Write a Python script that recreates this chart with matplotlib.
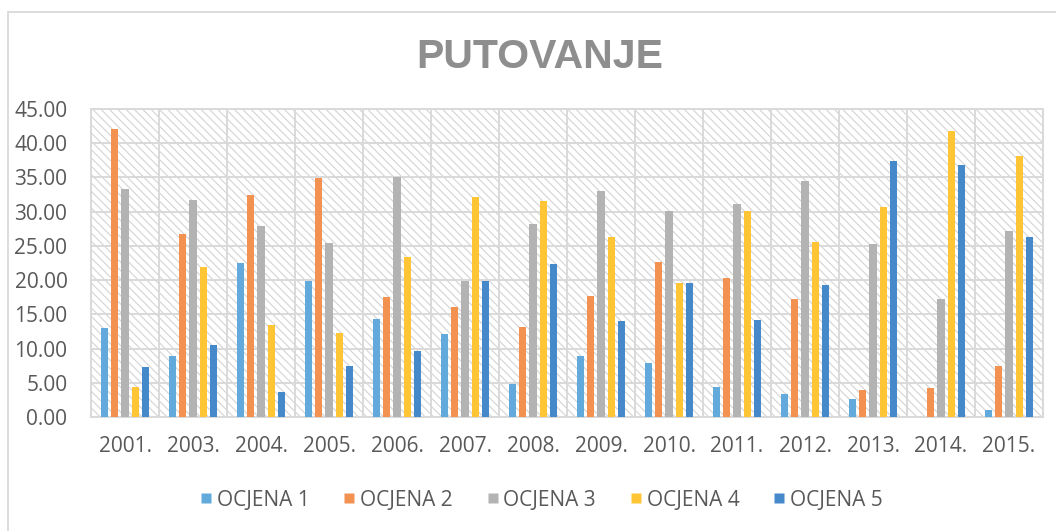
import matplotlib
matplotlib.use('Agg')
from matplotlib import pyplot as plt
from matplotlib.patches import Rectangle
from matplotlib.lines import Line2D
import numpy as np

years = ['2001.', '2003.', '2004.', '2005.', '2006.', '2007.', '2008.',
         '2009.', '2010.', '2011.', '2012.', '2013.', '2014.', '2015.']
series_names = ['OCJENA 1', 'OCJENA 2', 'OCJENA 3', 'OCJENA 4', 'OCJENA 5']

ocjena1 = [13.05, 8.91, 22.50, 19.80, 14.27, 12.10, 4.80, 8.90, 7.94, 4.38, 3.40, 2.68, 0.00, 0.97]
ocjena2 = [42.08, 26.80, 32.50, 34.97, 17.50, 16.00, 13.10, 17.70, 22.70, 20.26, 17.24, 3.95, 4.29, 7.45]
ocjena3 = [33.36, 31.75, 27.96, 25.40, 35.07, 19.87, 28.20, 33.00, 30.10, 31.17, 34.53, 25.30, 17.24, 27.20]
ocjena4 = [4.33, 21.97, 13.49, 12.20, 23.40, 32.10, 31.60, 26.35, 19.60, 30.10, 25.60, 30.68, 41.79, 38.14]
ocjena5 = [7.26, 10.52, 3.60, 7.50, 9.70, 19.87, 22.35, 14.07, 19.60, 14.20, 19.24, 37.40, 36.77, 26.30]

colors = ['#62AADB', '#F39150', '#B3B3B3', '#FFC535', '#4689CB']
grid_col = '#D9D9D9'
text_col = '#595959'

plt.rcParams['font.family'] = ['Open Sans', 'DejaVu Sans']
plt.rcParams['hatch.linewidth'] = 0.8

fig = plt.figure(figsize=(10.56, 5.31), dpi=100)
ax = fig.add_axes([91 / 1056, 114 / 531, 952 / 1056, 308 / 531])

# outer chart frame (only left and top edges visible in the crop)
fig.patches.append(Rectangle((8 / 1056, -0.1), 1.2, 1.1 - 12 / 531,
                             transform=fig.transFigure, fill=False,
                             edgecolor=grid_col, lw=1.3, zorder=0))

# hatched plot area
ax.add_patch(Rectangle((0, 0), 1, 1, transform=ax.transAxes, facecolor='white',
                       edgecolor='#D4D4D4', hatch='\\\\\\\\', lw=0, zorder=0))

x = np.arange(len(years))
step = 0.153
width = 0.107
data = [ocjena1, ocjena2, ocjena3, ocjena4, ocjena5]
for k, (vals, c) in enumerate(zip(data, colors)):
    ax.bar(x + (k - 2) * step, vals, width, color=c, zorder=3)

ax.set_xlim(-0.5, len(years) - 0.5)
ax.set_ylim(0, 45)
ax.set_yticks(np.arange(0, 46, 5))
ax.set_yticklabels(['%.2f' % v for v in np.arange(0, 46, 5)])
ax.set_xticks(x)
ax.set_xticklabels(years)
ax.set_xticks(np.arange(-0.5, len(years)), minor=True)

ax.grid(axis='y', which='major', color=grid_col, lw=1.4, zorder=1)
ax.grid(axis='x', which='minor', color=grid_col, lw=1.4, zorder=1)
ax.set_axisbelow(True)
for s in ax.spines.values():
    s.set_color(grid_col)
    s.set_linewidth(1.4)

ax.tick_params(axis='both', which='both', length=0, colors=text_col, labelsize=15)
ax.tick_params(axis='y', pad=17)
ax.tick_params(axis='x', pad=14)

fig.text(540 / 1056, 1 - 57 / 531, 'PUTOVANJE', ha='center', va='center',
         fontsize=29.5, fontweight='bold', color='#8E8E8E',
         family=['Liberation Sans', 'DejaVu Sans'])

handles = [Line2D([], [], ls='none', marker='s', markersize=6.8,
                  markerfacecolor=c, markeredgecolor='none') for c in colors]
leg = fig.legend(handles, series_names, loc='center', ncol=5,
                 bbox_to_anchor=(542 / 1056, 1 - 500 / 531), frameon=False,
                 fontsize=15, handlelength=0.45,
                 handletextpad=0.3, columnspacing=1.68, borderpad=0)
for t in leg.get_texts():
    t.set_color(text_col)

fig.savefig('out.png', dpi=100)
